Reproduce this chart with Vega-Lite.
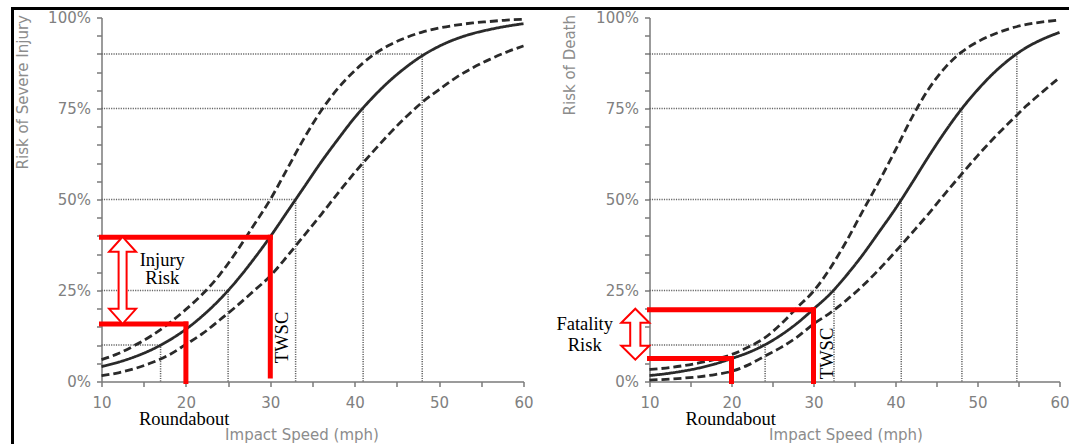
{
  "$schema": "https://vega.github.io/schema/vega-lite/v6.json",
  "background": "#ffffff",
  "padding": {"left": 9.5, "top": 5.5, "right": 0, "bottom": 0},
  "bounds": "flush",
  "spacing": 126,
  "config": {
    "view": {"stroke": null},
    "axis": {
      "domainColor": "#7a7a7a", "domainWidth": 1.5,
      "tickColor": "#7a7a7a", "tickWidth": 1.5, "tickSize": 5,
      "labelColor": "#808080", "labelFont": "DejaVu Sans", "labelFontSize": 15,
      "titleColor": "#8c8c8c", "titleFont": "DejaVu Sans", "titleFontSize": 15, "titleFontWeight": "normal",
      "grid": false, "labelFlush": false, "labelOverlap": false
    }
  },
  "datasets": {
    "curves": [
      {"p":"injury","s":"mid","x":10,"y":0.041},{"p":"injury","s":"mid","x":12,"y":0.053},{"p":"injury","s":"mid","x":14,"y":0.0685},{"p":"injury","s":"mid","x":16,"y":0.088},{"p":"injury","s":"mid","x":18,"y":0.113},{"p":"injury","s":"mid","x":20,"y":0.1435},{"p":"injury","s":"mid","x":22,"y":0.181},{"p":"injury","s":"mid","x":24,"y":0.225},{"p":"injury","s":"mid","x":26,"y":0.2765},{"p":"injury","s":"mid","x":28,"y":0.335},{"p":"injury","s":"mid","x":30,"y":0.398},{"p":"injury","s":"mid","x":32,"y":0.466},{"p":"injury","s":"mid","x":34,"y":0.534},{"p":"injury","s":"mid","x":36,"y":0.602},{"p":"injury","s":"mid","x":38,"y":0.665},{"p":"injury","s":"mid","x":40,"y":0.725},{"p":"injury","s":"mid","x":42,"y":0.777},{"p":"injury","s":"mid","x":44,"y":0.823},{"p":"injury","s":"mid","x":46,"y":0.862},{"p":"injury","s":"mid","x":48,"y":0.895},{"p":"injury","s":"mid","x":50,"y":0.921},{"p":"injury","s":"mid","x":52,"y":0.941},{"p":"injury","s":"mid","x":54,"y":0.956},{"p":"injury","s":"mid","x":56,"y":0.967},{"p":"injury","s":"mid","x":58,"y":0.976},{"p":"injury","s":"mid","x":60,"y":0.983},
      {"p":"injury","s":"upper","x":10,"y":0.06},{"p":"injury","s":"upper","x":12,"y":0.077},{"p":"injury","s":"upper","x":14,"y":0.1},{"p":"injury","s":"upper","x":16,"y":0.127},{"p":"injury","s":"upper","x":18,"y":0.16},{"p":"injury","s":"upper","x":20,"y":0.198},{"p":"injury","s":"upper","x":22,"y":0.241},{"p":"injury","s":"upper","x":24,"y":0.293},{"p":"injury","s":"upper","x":26,"y":0.357},{"p":"injury","s":"upper","x":28,"y":0.428},{"p":"injury","s":"upper","x":30,"y":0.5},{"p":"injury","s":"upper","x":32,"y":0.584},{"p":"injury","s":"upper","x":34,"y":0.668},{"p":"injury","s":"upper","x":36,"y":0.743},{"p":"injury","s":"upper","x":38,"y":0.805},{"p":"injury","s":"upper","x":40,"y":0.854},{"p":"injury","s":"upper","x":42,"y":0.894},{"p":"injury","s":"upper","x":44,"y":0.923},{"p":"injury","s":"upper","x":46,"y":0.944},{"p":"injury","s":"upper","x":48,"y":0.96},{"p":"injury","s":"upper","x":50,"y":0.971},{"p":"injury","s":"upper","x":52,"y":0.979},{"p":"injury","s":"upper","x":54,"y":0.985},{"p":"injury","s":"upper","x":56,"y":0.989},{"p":"injury","s":"upper","x":58,"y":0.993},{"p":"injury","s":"upper","x":60,"y":0.995},
      {"p":"injury","s":"lower","x":10,"y":0.016},{"p":"injury","s":"lower","x":12,"y":0.024},{"p":"injury","s":"lower","x":14,"y":0.036},{"p":"injury","s":"lower","x":16,"y":0.052},{"p":"injury","s":"lower","x":18,"y":0.073},{"p":"injury","s":"lower","x":20,"y":0.102},{"p":"injury","s":"lower","x":22,"y":0.132},{"p":"injury","s":"lower","x":24,"y":0.169},{"p":"injury","s":"lower","x":26,"y":0.207},{"p":"injury","s":"lower","x":28,"y":0.248},{"p":"injury","s":"lower","x":30,"y":0.29},{"p":"injury","s":"lower","x":32,"y":0.344},{"p":"injury","s":"lower","x":34,"y":0.401},{"p":"injury","s":"lower","x":36,"y":0.458},{"p":"injury","s":"lower","x":38,"y":0.517},{"p":"injury","s":"lower","x":40,"y":0.574},{"p":"injury","s":"lower","x":42,"y":0.627},{"p":"injury","s":"lower","x":44,"y":0.678},{"p":"injury","s":"lower","x":46,"y":0.725},{"p":"injury","s":"lower","x":48,"y":0.767},{"p":"injury","s":"lower","x":50,"y":0.802},{"p":"injury","s":"lower","x":52,"y":0.835},{"p":"injury","s":"lower","x":54,"y":0.862},{"p":"injury","s":"lower","x":56,"y":0.885},{"p":"injury","s":"lower","x":58,"y":0.905},{"p":"injury","s":"lower","x":60,"y":0.922},
      {"p":"death","s":"mid","x":10,"y":0.0163},{"p":"death","s":"mid","x":12,"y":0.0214},{"p":"death","s":"mid","x":14,"y":0.0282},{"p":"death","s":"mid","x":16,"y":0.0369},{"p":"death","s":"mid","x":18,"y":0.0483},{"p":"death","s":"mid","x":20,"y":0.063},{"p":"death","s":"mid","x":22,"y":0.079},{"p":"death","s":"mid","x":24,"y":0.1},{"p":"death","s":"mid","x":26,"y":0.127},{"p":"death","s":"mid","x":28,"y":0.16},{"p":"death","s":"mid","x":30,"y":0.199},{"p":"death","s":"mid","x":32,"y":0.24},{"p":"death","s":"mid","x":34,"y":0.291},{"p":"death","s":"mid","x":36,"y":0.348},{"p":"death","s":"mid","x":38,"y":0.411},{"p":"death","s":"mid","x":40,"y":0.475},{"p":"death","s":"mid","x":42,"y":0.545},{"p":"death","s":"mid","x":44,"y":0.617},{"p":"death","s":"mid","x":46,"y":0.685},{"p":"death","s":"mid","x":48,"y":0.747},{"p":"death","s":"mid","x":50,"y":0.801},{"p":"death","s":"mid","x":52,"y":0.848},{"p":"death","s":"mid","x":54,"y":0.887},{"p":"death","s":"mid","x":56,"y":0.918},{"p":"death","s":"mid","x":58,"y":0.941},{"p":"death","s":"mid","x":60,"y":0.959},
      {"p":"death","s":"upper","x":10,"y":0.033},{"p":"death","s":"upper","x":12,"y":0.037},{"p":"death","s":"upper","x":14,"y":0.043},{"p":"death","s":"upper","x":16,"y":0.051},{"p":"death","s":"upper","x":18,"y":0.061},{"p":"death","s":"upper","x":20,"y":0.074},{"p":"death","s":"upper","x":22,"y":0.094},{"p":"death","s":"upper","x":24,"y":0.119},{"p":"death","s":"upper","x":26,"y":0.157},{"p":"death","s":"upper","x":28,"y":0.203},{"p":"death","s":"upper","x":30,"y":0.248},{"p":"death","s":"upper","x":32,"y":0.31},{"p":"death","s":"upper","x":34,"y":0.385},{"p":"death","s":"upper","x":36,"y":0.468},{"p":"death","s":"upper","x":38,"y":0.55},{"p":"death","s":"upper","x":40,"y":0.636},{"p":"death","s":"upper","x":42,"y":0.725},{"p":"death","s":"upper","x":44,"y":0.802},{"p":"death","s":"upper","x":46,"y":0.861},{"p":"death","s":"upper","x":48,"y":0.904},{"p":"death","s":"upper","x":50,"y":0.933},{"p":"death","s":"upper","x":52,"y":0.954},{"p":"death","s":"upper","x":54,"y":0.97},{"p":"death","s":"upper","x":56,"y":0.981},{"p":"death","s":"upper","x":58,"y":0.988},{"p":"death","s":"upper","x":60,"y":0.993},
      {"p":"death","s":"lower","x":10,"y":0.004},{"p":"death","s":"lower","x":12,"y":0.006},{"p":"death","s":"lower","x":14,"y":0.009},{"p":"death","s":"lower","x":16,"y":0.013},{"p":"death","s":"lower","x":18,"y":0.019},{"p":"death","s":"lower","x":20,"y":0.028},{"p":"death","s":"lower","x":22,"y":0.045},{"p":"death","s":"lower","x":24,"y":0.069},{"p":"death","s":"lower","x":26,"y":0.093},{"p":"death","s":"lower","x":28,"y":0.122},{"p":"death","s":"lower","x":30,"y":0.158},{"p":"death","s":"lower","x":32,"y":0.188},{"p":"death","s":"lower","x":34,"y":0.223},{"p":"death","s":"lower","x":36,"y":0.263},{"p":"death","s":"lower","x":38,"y":0.308},{"p":"death","s":"lower","x":40,"y":0.357},{"p":"death","s":"lower","x":42,"y":0.408},{"p":"death","s":"lower","x":44,"y":0.46},{"p":"death","s":"lower","x":46,"y":0.515},{"p":"death","s":"lower","x":48,"y":0.568},{"p":"death","s":"lower","x":50,"y":0.62},{"p":"death","s":"lower","x":52,"y":0.669},{"p":"death","s":"lower","x":54,"y":0.714},{"p":"death","s":"lower","x":56,"y":0.758},{"p":"death","s":"lower","x":58,"y":0.797},{"p":"death","s":"lower","x":60,"y":0.835}
    ],
    "guides": [
      {"p":"injury","x":10,"y":0.1,"x2":17,"y2":0.1},{"p":"injury","x":10,"y":0.25,"x2":25,"y2":0.25},{"p":"injury","x":10,"y":0.5,"x2":33,"y2":0.5},{"p":"injury","x":10,"y":0.75,"x2":41,"y2":0.75},{"p":"injury","x":10,"y":0.9,"x2":48,"y2":0.9},
      {"p":"injury","x":17,"y":0,"x2":17,"y2":0.1},{"p":"injury","x":25,"y":0,"x2":25,"y2":0.25},{"p":"injury","x":33,"y":0,"x2":33,"y2":0.5},{"p":"injury","x":41,"y":0,"x2":41,"y2":0.75},{"p":"injury","x":48,"y":0,"x2":48,"y2":0.9},
      {"p":"death","x":10,"y":0.1,"x2":24.1,"y2":0.1},{"p":"death","x":10,"y":0.25,"x2":32.5,"y2":0.25},{"p":"death","x":10,"y":0.5,"x2":40.7,"y2":0.5},{"p":"death","x":10,"y":0.75,"x2":48.1,"y2":0.75},{"p":"death","x":10,"y":0.9,"x2":54.8,"y2":0.9},
      {"p":"death","x":24.1,"y":0,"x2":24.1,"y2":0.1},{"p":"death","x":32.5,"y":0,"x2":32.5,"y2":0.25},{"p":"death","x":40.7,"y":0,"x2":40.7,"y2":0.5},{"p":"death","x":48.1,"y":0,"x2":48.1,"y2":0.75},{"p":"death","x":54.8,"y":0,"x2":54.8,"y2":0.9}
    ],
    "red": [
      {"p":"injury","x":10,"y":0.396,"x2":30,"y2":0.396},{"p":"injury","x":30,"y":0.396,"x2":30,"y2":0.015},
      {"p":"injury","x":10,"y":0.158,"x2":20,"y2":0.158},{"p":"injury","x":20,"y":0.158,"x2":20,"y2":0.0},
      {"p":"death","x":10,"y":0.197,"x2":30,"y2":0.197},{"p":"death","x":30,"y":0.197,"x2":30,"y2":0.0},
      {"p":"death","x":10,"y":0.063,"x2":20,"y2":0.063},{"p":"death","x":20,"y":0.063,"x2":20,"y2":0.0}
    ],
    "frame": [
      {"x":-0.545,"y":1.0247,"x2":126,"y2":1.0247},
      {"x":-0.545,"y":1.0247,"x2":-0.545,"y2":-0.2}
    ],
    "arrows": [
      {"p":"injury","x":12.5,"y":0.278},
      {"p":"death","x":8.27,"y":0.13}
    ],
    "notes": [
      {"p":"injury","k":"h","x":17.2,"y":0.335,"t":"Injury"},
      {"p":"injury","k":"h","x":17.2,"y":0.283,"t":"Risk"},
      {"p":"injury","k":"h","x":19.8,"y":-0.104,"t":"Roundabout"},
      {"p":"injury","k":"v","x":31.4,"y":0.121,"t":"TWSC"},
      {"p":"death","k":"h","x":2.1,"y":0.157,"t":"Fatality"},
      {"p":"death","k":"h","x":2.1,"y":0.1,"t":"Risk"},
      {"p":"death","k":"h","x":19.9,"y":-0.104,"t":"Roundabout"},
      {"p":"death","k":"v","x":31.6,"y":0.077,"t":"TWSC"}
    ]
  },
  "hconcat": [
    {
      "width": 422,
      "height": 364,
      "encoding": {
        "x": {"field": "x", "type": "quantitative",
          "scale": {"domain": [10, 60], "nice": false, "zero": false},
          "axis": {"title": "Impact Speed (mph)", "values": [10,15,20,25,30,35,40,45,50,55,60],
            "labelExpr": "datum.value % 10 === 0 ? datum.label : ''", "labelPadding": 9,
            "titleX": 200, "titleY": 46, "titleAlign": "center", "titleBaseline": "top"}},
        "y": {"field": "y", "type": "quantitative",
          "scale": {"domain": [0, 1], "nice": false, "zero": false},
          "axis": {"title": "Risk of Severe Injury",
            "values": [0,0.05,0.1,0.15,0.2,0.25,0.3,0.35,0.4,0.45,0.5,0.55,0.6,0.65,0.7,0.75,0.8,0.85,0.9,0.95,1],
            "labelExpr": "round(datum.value*100) % 25 === 0 ? format(datum.value, '.0%') : ''", "labelPadding": 6,
            "titleX": -71, "titleY": -3, "titleAlign": "right", "titleBaseline": "bottom", "titleAngle": 270}}
      },
      "layer": [
        {"data": {"name": "guides"}, "transform": [{"filter": "datum.p === 'injury'"}],
         "mark": {"type": "rule", "color": "#666666", "strokeWidth": 1.5, "strokeDash": [1.2, 1.2]},
         "encoding": {"x2": {"field": "x2"}, "y2": {"field": "y2"}}},
        {"data": {"name": "curves"}, "transform": [{"filter": "datum.p === 'injury'"}],
         "mark": {"type": "line", "interpolate": "monotone", "color": "#2a2a2a", "strokeWidth": 2.8},
         "encoding": {"detail": {"field": "s"},
           "strokeDash": {"field": "s", "type": "nominal", "scale": {"domain": ["mid","upper","lower"], "range": [[1,0],[8,4],[8,4]]}, "legend": null}}},
        {"data": {"name": "red"}, "transform": [{"filter": "datum.p === 'injury'"}],
         "mark": {"type": "rule", "color": "#ff0000", "strokeWidth": 5, "strokeCap": "square"},
         "encoding": {"x2": {"field": "x2"}, "y2": {"field": "y2"}}},
        {"data": {"name": "arrows"}, "transform": [{"filter": "datum.p === 'injury'"}],
         "mark": {"type": "point", "shape": "M0,-1L0.31,-0.655L0.092,-0.655L0.092,0.655L0.31,0.655L0,1L-0.31,0.655L-0.092,0.655L-0.092,-0.655L-0.31,-0.655Z",
           "size": 7569, "filled": true, "fill": "#ffffff", "stroke": "#ff0000", "strokeWidth": 2, "opacity": 1}},
        {"data": {"name": "notes"}, "transform": [{"filter": "datum.p === 'injury' && datum.k === 'h'"}],
         "mark": {"type": "text", "font": "Liberation Serif", "fontSize": 18.5, "color": "#000000", "align": "center", "baseline": "middle"},
         "encoding": {"text": {"field": "t"}}},
        {"data": {"name": "notes"}, "transform": [{"filter": "datum.p === 'injury' && datum.k === 'v'"}],
         "mark": {"type": "text", "font": "Liberation Serif", "fontSize": 18.5, "color": "#000000", "align": "center", "baseline": "middle", "angle": 270},
         "encoding": {"text": {"field": "t"}}},
        {"data": {"name": "frame"},
         "mark": {"type": "rule", "color": "#000000", "strokeWidth": 3, "strokeCap": "square"},
         "encoding": {"x2": {"field": "x2"}, "y2": {"field": "y2"}}}
      ]
    },
    {
      "width": 410,
      "height": 364,
      "encoding": {
        "x": {"field": "x", "type": "quantitative",
          "scale": {"domain": [10, 60], "nice": false, "zero": false},
          "axis": {"title": "Impact Speed (mph)", "values": [10,15,20,25,30,35,40,45,50,55,60],
            "labelExpr": "datum.value % 10 === 0 ? datum.label : ''", "labelPadding": 9,
            "titleX": 196, "titleY": 46, "titleAlign": "center", "titleBaseline": "top"}},
        "y": {"field": "y", "type": "quantitative",
          "scale": {"domain": [0, 1], "nice": false, "zero": false},
          "axis": {"title": "Risk of Death",
            "values": [0,0.05,0.1,0.15,0.2,0.25,0.3,0.35,0.4,0.45,0.5,0.55,0.6,0.65,0.7,0.75,0.8,0.85,0.9,0.95,1],
            "labelExpr": "round(datum.value*100) % 25 === 0 ? format(datum.value, '.0%') : ''", "labelPadding": 6,
            "titleX": -72, "titleY": -3, "titleAlign": "right", "titleBaseline": "bottom", "titleAngle": 270}}
      },
      "layer": [
        {"data": {"name": "guides"}, "transform": [{"filter": "datum.p === 'death'"}],
         "mark": {"type": "rule", "color": "#666666", "strokeWidth": 1.5, "strokeDash": [1.2, 1.2]},
         "encoding": {"x2": {"field": "x2"}, "y2": {"field": "y2"}}},
        {"data": {"name": "curves"}, "transform": [{"filter": "datum.p === 'death'"}],
         "mark": {"type": "line", "interpolate": "monotone", "color": "#2a2a2a", "strokeWidth": 2.8},
         "encoding": {"detail": {"field": "s"},
           "strokeDash": {"field": "s", "type": "nominal", "scale": {"domain": ["mid","upper","lower"], "range": [[1,0],[8,4],[8,4]]}, "legend": null}}},
        {"data": {"name": "red"}, "transform": [{"filter": "datum.p === 'death'"}],
         "mark": {"type": "rule", "color": "#ff0000", "strokeWidth": 5, "strokeCap": "square"},
         "encoding": {"x2": {"field": "x2"}, "y2": {"field": "y2"}}},
        {"data": {"name": "arrows"}, "transform": [{"filter": "datum.p === 'death'"}],
         "mark": {"type": "point", "shape": "M0,-1L0.55,-0.45L0.2,-0.45L0.2,0.45L0.55,0.45L0,1L-0.55,0.45L-0.2,0.45L-0.2,-0.45L-0.55,-0.45Z",
           "size": 2601, "filled": true, "fill": "#ffffff", "stroke": "#ff0000", "strokeWidth": 2, "opacity": 1}},
        {"data": {"name": "notes"}, "transform": [{"filter": "datum.p === 'death' && datum.k === 'h'"}],
         "mark": {"type": "text", "font": "Liberation Serif", "fontSize": 18.5, "color": "#000000", "align": "center", "baseline": "middle"},
         "encoding": {"text": {"field": "t"}}},
        {"data": {"name": "notes"}, "transform": [{"filter": "datum.p === 'death' && datum.k === 'v'"}],
         "mark": {"type": "text", "font": "Liberation Serif", "fontSize": 18.5, "color": "#000000", "align": "center", "baseline": "middle", "angle": 270},
         "encoding": {"text": {"field": "t"}}}
      ]
    }
  ]
}
